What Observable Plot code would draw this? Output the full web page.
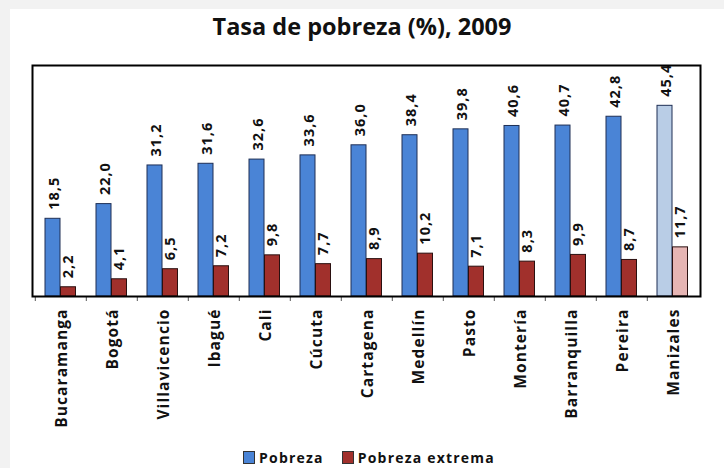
<!DOCTYPE html>
<html>
<head>
<meta charset="utf-8">
<script src="https://cdn.jsdelivr.net/npm/d3@7"></script>
<script src="https://cdn.jsdelivr.net/npm/@observablehq/plot@0.6"></script>
<style>
  html, body { margin: 0; padding: 0; background: #f2f2f2; }
  #panel { position: absolute; left: 10px; top: 9px; width: 714px; height: 459px; background: #fff; }
  #wrap { position: absolute; left: 0; top: 0; width: 724px; height: 468px; font-family: "Open Sans", sans-serif; }
  #title { position: absolute; left: 0; top: 0; width: 724px; height: 50px; text-align: center; font-weight: 700; font-size: 23.5px; line-height: 30px; padding-top: 11px; box-sizing: border-box; color: #111; }
  #chart { position: absolute; left: 0; top: 50px; }
  #legend { position: absolute; left: 7px; top: 449px; width: 724px; text-align: center; font-weight: 700; font-size: 14px; line-height: 18px; color: #111; letter-spacing: 1.2px; }
  .sw { display: inline-block; width: 10px; height: 11px; border: 1px solid #333; vertical-align: -1px; margin-right: 4px; }
  .item { display: inline-block; margin: 0 9px; }
</style>
</head>
<body>
<div id="panel"></div>
<div id="wrap">
  <div id="title">Tasa de pobreza (%), 2009</div>
  <div id="chart"></div>
  <div id="legend"></div>
</div>
<script>
const cities = ["Bucaramanga", "Bogotá", "Villavicencio", "Ibagué", "Cali", "Cúcuta", "Cartagena", "Medellín", "Pasto", "Montería", "Barranquilla", "Pereira", "Manizales"];
const pobreza = [18.5, 22.0, 31.2, 31.6, 32.6, 33.6, 36.0, 38.4, 39.8, 40.6, 40.7, 42.8, 45.4];
const extrema = [2.2, 4.1, 6.5, 7.2, 9.8, 7.7, 8.9, 10.2, 7.1, 8.3, 9.9, 8.7, 11.7];
const seriesNames = ["Pobreza", "Pobreza extrema"];
const highlight = "Manizales";

const blue = "#4a84d6", blueLight = "#b9cde6";
const red = "#a1302c", redLight = "#e6b5b4";

const data = cities.map((c, i) => ({city: c, pobreza: pobreza[i], extrema: extrema[i]}));
const fmt = v => d3.format(".1f")(v).replace(".", ",");

const W = 724, H = 390, ML = 32, MR = 24, MT = 15, MB = 144;
const bw = (W - ML - MR) / cities.length;

const chart = Plot.plot({
  width: W, height: H,
  marginLeft: ML, marginRight: MR, marginTop: MT, marginBottom: MB,
  style: {fontFamily: "'Open Sans', sans-serif", background: "transparent", overflow: "visible"},
  x: {domain: cities, padding: 0, axis: null},
  y: {domain: [0, 55], axis: null},
  marks: [
    Plot.barY(data, {x: "city", y: "pobreza", fill: d => d.city === highlight ? blueLight : blue, stroke: "#1e2f55", strokeWidth: 1, insetLeft: 10, insetRight: 26}),
    Plot.barY(data, {x: "city", y: "extrema", fill: d => d.city === highlight ? redLight : red, stroke: "#2a1010", strokeWidth: 1, insetLeft: 25.5, insetRight: 10.5}),
    Plot.text(data, {x: "city", y: "pobreza", text: d => fmt(d.pobreza), rotate: -90, textAnchor: "start", lineAnchor: "middle", dx: -7, dy: -9, fontSize: 14.5, fontWeight: 700, fill: "#111"}),
    Plot.text(data, {x: "city", y: "extrema", text: d => fmt(d.extrema), rotate: -90, textAnchor: "start", lineAnchor: "middle", dx: 7, dy: -9, fontSize: 14.5, fontWeight: 700, fill: "#111"}),
    Plot.ruleX(cities, {x: d => d, y1: 0, y2: 0, insetBottom: -5, dx: -bw / 2, stroke: "#555", strokeWidth: 1}),
    Plot.text(cities, {x: d => d, frameAnchor: "bottom", text: d => d, rotate: -90, textAnchor: "end", lineAnchor: "middle", dx: 1, dy: 12, fontSize: 15.5, fontWeight: 700, fill: "#111"}),
    Plot.frame({stroke: "#000", strokeWidth: 2})
  ]
});
// letter spacing to mimic the wide bold lettering of the original
const citySet = new Set(cities);
d3.select(chart).selectAll("text").each(function() {
  const t = this.textContent;
  if (citySet.has(t)) this.style.letterSpacing = "1.1px";
  else if (/^\d+,\d$/.test(t)) this.style.letterSpacing = "1px";
});
document.getElementById("chart").appendChild(chart);

const legend = document.getElementById("legend");
[[seriesNames[0], blue], [seriesNames[1], red]].forEach(([name, col]) => {
  const span = document.createElement("span");
  span.className = "item";
  const sw = document.createElement("span");
  sw.className = "sw";
  sw.style.background = col;
  span.appendChild(sw);
  span.appendChild(document.createTextNode(name));
  legend.appendChild(span);
});
</script>
</body>
</html>
